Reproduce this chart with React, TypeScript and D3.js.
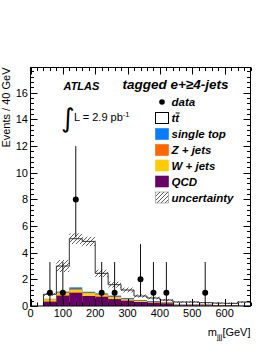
import React from "react";
import * as d3 from "d3";

const binEdges = [40, 80, 120, 160, 200, 240, 280, 320, 360, 400, 440, 480, 520, 560, 600, 640, 680];
const totalMC = [0.88, 3.0, 5.05, 4.85, 2.45, 1.6, 1.2, 0.75, 0.6, 0.45, 0.3, 0.3, 0.25, 0.22, 0.2, 0.3];
const qcd = [0.33, 0.78, 1.0, 0.75, 0.7, 0.52, 0.4, 0.3, 0.25, 0.2, 0.05, 0.05, 0.04, 0.03, 0.03, 0.0];
const wjets = [0.17, 0.2, 0.22, 0.22, 0.15, 0.15, 0.1, 0.08, 0.05, 0.04, 0.02, 0.02, 0.02, 0.01, 0.01, 0.0];
const zjets = [0.02, 0.03, 0.05, 0.03, 0.03, 0.03, 0.02, 0.02, 0.02, 0.01, 0.02, 0.03, 0.04, 0.02, 0.01, 0.0];
const singleTop = [0.02, 0.07, 0.13, 0.07, 0.07, 0.08, 0.08, 0.05, 0.05, 0.03, 0.02, 0.02, 0.02, 0.02, 0.02, 0.03];
const uncertainty = [0.12, 0.45, 0.4, 0.35, 0.28, 0.22, 0.18, 0.12, 0.1, 0.08, 0.06, 0.06, 0.05, 0.05, 0.05, 0.06];

const dataX = [60, 100, 140, 220, 260, 340, 380, 420, 540];
const dataY = [1, 1, 8, 1, 1, 2, 1, 1, 1];
const dataLo = [0.17, 0.17, 5.15, 0.17, 0.17, 0.71, 0.17, 0.17, 0.17];
const dataHi = [3.3, 3.3, 12.0, 3.3, 3.3, 4.64, 3.3, 3.3, 3.3];

const xTicks = [0, 100, 200, 300, 400, 500, 600];
const yTicks = [0, 2, 4, 6, 8, 10, 12, 14, 16];

const legendLabels = ["data", "tt", "single top", "Z + jets", "W + jets", "QCD", "uncertainty"];

const COLORS = {
  qcd: "#660066",
  w: "#ffcc00",
  z: "#ff6600",
  st: "#0a7cff",
  tt: "#ffffff",
};

const FONT = "'Liberation Sans', Arial, Helvetica, sans-serif";

export default function App() {
  const W = 274, H = 355;
  const x = d3.scaleLinear().domain([0, 680]).range([30.5, 250.5]);
  const y = d3.scaleLinear().domain([0, 17.9]).range([306, 67.5]);
  const left = x(0), right = x(680), top = y(17.9), bottom = y(0);

  const comps = [
    { vals: qcd, color: COLORS.qcd },
    { vals: wjets, color: COLORS.w },
    { vals: zjets, color: COLORS.z },
    { vals: singleTop, color: COLORS.st },
  ];

  const rects: React.ReactNode[] = [];
  totalMC.forEach((t, i) => {
    const x0 = x(binEdges[i]), x1 = x(binEdges[i + 1]);
    rects.push(<rect key={`tt${i}`} x={x0} y={y(t)} width={x1 - x0} height={bottom - y(t)} fill={COLORS.tt} />);
  });
  for (let c = comps.length - 1; c >= 0; c--) {
    totalMC.forEach((_, i) => {
      let cum = 0;
      for (let k = 0; k <= c; k++) cum += comps[k].vals[i];
      if (cum <= 0) return;
      const x0 = x(binEdges[i]), x1 = x(binEdges[i + 1]);
      rects.push(<rect key={`c${c}_${i}`} x={x0} y={y(cum)} width={x1 - x0} height={bottom - y(cum)} fill={comps[c].color} />);
    });
  }

  let outline = `M${x(binEdges[0])},${bottom}`;
  totalMC.forEach((t, i) => {
    outline += ` L${x(binEdges[i])},${y(t)} L${x(binEdges[i + 1])},${y(t)}`;
  });

  const hatch = totalMC.map((t, i) => {
    const x0 = x(binEdges[i]), x1 = x(binEdges[i + 1]);
    const lo = Math.max(0, t - uncertainty[i]);
    const hi = t + uncertainty[i];
    return <rect key={`h${i}`} x={x0} y={y(hi)} width={x1 - x0} height={y(lo) - y(hi)} fill="url(#hatch)" />;
  });

  const ticks: React.ReactNode[] = [];
  for (let v = 0; v <= 680; v += 20) {
    const major = v % 100 === 0;
    const len = major ? 7 : 3.5;
    const xx = Math.round(x(v)) + 0.5;
    ticks.push(<line key={`xb${v}`} x1={xx} x2={xx} y1={bottom} y2={bottom - len} />);
    ticks.push(<line key={`xt${v}`} x1={xx} x2={xx} y1={top} y2={top + len} />);
  }
  for (let v = 0; v <= 17.9; v += 0.4) {
    const r = Math.round(v * 10) / 10;
    const major = Math.abs(r / 2 - Math.round(r / 2)) < 1e-6;
    const len = major ? 7 : 3.5;
    const yy = Math.round(y(r)) + 0.5;
    ticks.push(<line key={`yl${r}`} x1={left} x2={left + len} y1={yy} y2={yy} />);
    ticks.push(<line key={`yr${r}`} x1={right} x2={right - len} y1={yy} y2={yy} />);
  }

  const legX = 155.5, legTextX = 171.5;
  const legY = [102, 118, 134, 150, 165.5, 181.5, 197.5];
  const legFills = [null, COLORS.tt, COLORS.st, COLORS.z, COLORS.w, COLORS.qcd, "url(#hatch)"];

  return (
    <svg width={W} height={H} style={{ position: "absolute", left: 0, top: 0, background: "#fff" }} fontFamily={FONT}>
      <defs>
        <pattern id="hatch" patternUnits="userSpaceOnUse" width="4" height="4">
          <path d="M0,4 L4,0 M-1,1 L1,-1 M3,5 L5,3" stroke="#333" strokeWidth="0.8" />
        </pattern>
      </defs>
      <rect x={0} y={0} width={W} height={H} fill="#fff" />
      {rects}
      {hatch}
      <path d={outline} fill="none" stroke="#333" strokeWidth={1} />

      {dataX.map((dx, i) => (
        <g key={`d${i}`}>
          <line x1={x(dx)} x2={x(dx)} y1={y(dataLo[i])} y2={y(dataHi[i])} stroke="#111" strokeWidth={1} />
          <circle cx={x(dx)} cy={y(dataY[i])} r={3} fill="#000" />
        </g>
      ))}

      <g stroke="#000" strokeWidth={1}>{ticks}</g>
      <rect x={left} y={top} width={right - left} height={bottom - top} fill="none" stroke="#000" strokeWidth={1} />

      {xTicks.map((v) => (
        <text key={`xl${v}`} x={x(v)} y={317} fontSize={11} textAnchor="middle" fill="#000">{v}</text>
      ))}
      {yTicks.map((v) => (
        <text key={`yl${v}`} x={28} y={y(v) + 4} fontSize={11} textAnchor="end" fill="#000">{v}</text>
      ))}

      <text transform={`translate(9.5,${top}) rotate(-90)`} fontSize={11} textAnchor="end" fill="#000">Events / 40 GeV</text>
      <text x={250.5} y={336} fontSize={11} textAnchor="end" fill="#000">
        m<tspan fontSize={8} dy={3}>jjj</tspan><tspan dy={-3}>[GeV]</tspan>
      </text>

      <text x={63.5} y={90} fontSize={11} fontWeight="bold" fontStyle="italic" fill="#000">ATLAS</text>
      <text x={122.5} y={89} fontSize={13.5} fontWeight="bold" fontStyle="italic" fill="#000">tagged e+≥4-jets</text>

      <text x={61} y={127} fontSize={26} fill="#000" fontFamily="'DejaVu Sans', sans-serif">∫</text>
      <text x={74} y={121} fontSize={11} fill="#000">
        L = 2.9 pb<tspan fontSize={7.5} dy={-4}>-1</tspan>
      </text>

      {legendLabels.map((lab, i) => {
        const cy = legY[i];
        return (
          <g key={`leg${i}`}>
            {i === 0 ? (
              <circle cx={legX + 6.5} cy={cy} r={2.8} fill="#000" />
            ) : (
              <rect x={legX} y={cy - 5.5} width={13} height={11} fill={legFills[i] as string}
                stroke={i === 1 ? "#000" : i === 6 ? "#888" : (legFills[i] as string)} strokeWidth={i === 1 ? 1 : 0.6} />
            )}
            <text x={legTextX} y={cy + 4} fontSize={11.5} fontWeight="bold" fontStyle="italic" fill="#000">{lab}</text>
            {i === 1 ? (
              <line x1={legTextX + 4.2} x2={legTextX + 8.2} y1={cy - 5} y2={cy - 5} stroke="#000" strokeWidth={1} />
            ) : null}
          </g>
        );
      })}
    </svg>
  );
}
